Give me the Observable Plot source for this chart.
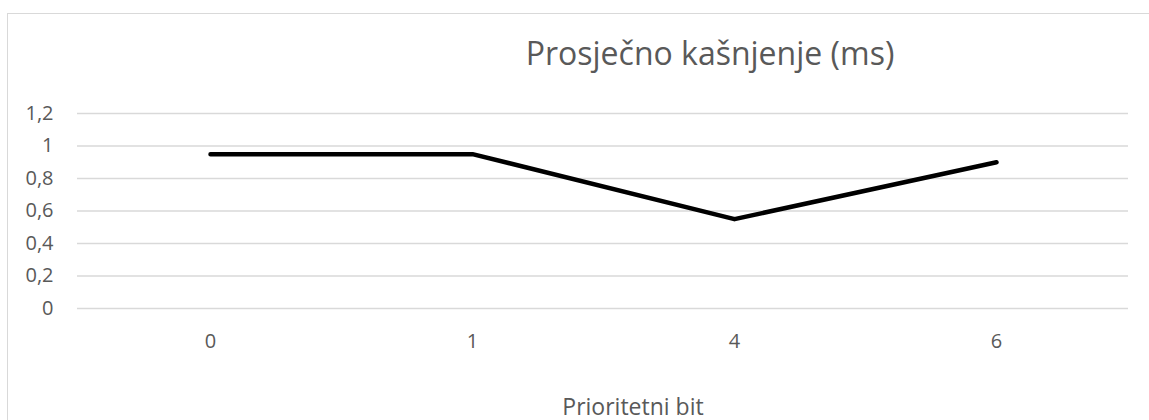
<!DOCTYPE html>
<html>
<head>
<meta charset="utf-8">
<script src="https://cdn.jsdelivr.net/npm/d3@7"></script>
<script src="https://cdn.jsdelivr.net/npm/@observablehq/plot@0.6"></script>
<style>
  html, body { margin: 0; padding: 0; background: #fff; }
  #wrap { position: relative; width: 1149px; height: 420px; overflow: hidden; font-family: "Open Sans", sans-serif; }
  #frame { position: absolute; left: 7px; top: 13px; width: 1200px; height: 500px; border-left: 1.5px solid #d9d9d9; border-top: 1.5px solid #d9d9d9; }
  #title { position: absolute; left: 0; width: 1420px; top: 36.5px; line-height: 1; text-align: center; font-size: 32px; color: #595959; white-space: nowrap; }
  #xtitle { position: absolute; left: 0; width: 1266px; top: 394.5px; line-height: 1; text-align: center; font-size: 23px; color: #595959; white-space: nowrap; }
  #chart { position: absolute; left: 0; top: 0; }
</style>
</head>
<body>
<div id="wrap">
  <div id="frame"></div>
  <div id="chart"></div>
  <div id="title">Prosječno kašnjenje (ms)</div>
  <div id="xtitle">Prioritetni bit</div>
</div>
<script>
const categories = ["0", "1", "4", "6"];
const delays = [0.95, 0.95, 0.55, 0.9];
const yTicks = [0, 0.2, 0.4, 0.6, 0.8, 1, 1.2];

const data = categories.map((c, i) => ({bit: c, delay: delays[i]}));
const fmt = d => String(Math.round(d * 10) / 10).replace(".", ",");

const chart = Plot.plot({
  width: 1149,
  height: 420,
  marginLeft: 77,
  marginRight: 21,
  marginTop: 113,
  marginBottom: 112,
  style: {background: "transparent", fontFamily: "Open Sans, sans-serif", fontSize: "20px", color: "#595959"},
  x: {type: "point", domain: categories, padding: 0.5},
  y: {domain: [0, 1.2]},
  marks: [
    Plot.gridY(yTicks, {stroke: "#d9d9d9", strokeOpacity: 1, strokeWidth: 1.5}),
    Plot.axisY(yTicks, {tickSize: 0, tickPadding: 24, tickFormat: fmt, label: null, fill: "#595959", fontSize: 20}),
    Plot.axisX({tickSize: 0, tickPadding: 25, label: null, fill: "#595959", fontSize: 20}),
    Plot.line(data, {x: "bit", y: "delay", stroke: "#000", strokeWidth: 4.5, strokeLinecap: "round", strokeLinejoin: "round"})
  ]
});
chart.querySelectorAll("text").forEach(t => { t.style.fontSize = "20px"; });
document.getElementById("chart").appendChild(chart);
</script>
</body>
</html>
